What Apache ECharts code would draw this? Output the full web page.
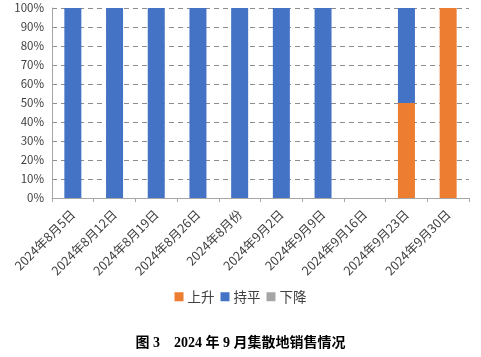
<!DOCTYPE html>
<html><head><meta charset="utf-8">
<script src="https://cdn.jsdelivr.net/npm/echarts@6/dist/echarts.min.js"></script>
<style>html,body{margin:0;padding:0;background:#fff}#c{width:481px;height:357px}</style>
</head><body><div id="c"></div>
<script>
const categories = ['2024年8月5日','2024年8月12日','2024年8月19日','2024年8月26日','2024年8月份','2024年9月2日','2024年9月9日','2024年9月16日','2024年9月23日','2024年9月30日'];
const up = [0,0,0,0,0,0,0,0,50,100];
const flat = [100,100,100,100,100,100,100,0,50,0];
const down = [0,0,0,0,0,0,0,0,0,0];
const yTicks = [0,10,20,30,40,50,60,70,80,90,100];
const chart = echarts.init(document.getElementById('c'), null, {renderer:'canvas'});
const font = '"Noto Sans CJK SC", "Liberation Sans", sans-serif';
chart.setOption({
  animation:false,
  title:{text:'图 3    2024 年 9 月集散地销售情况', left:'center', top:331,
    textStyle:{fontSize:14, fontWeight:'bold', color:'#000', fontFamily:'"Liberation Serif", "Noto Sans CJK SC", serif'}},
  legend:{data:['上升','持平','下降'], top:285, left:'center', itemWidth:9, itemHeight:9, itemGap:6,
    icon:'rect', textStyle:{fontSize:13.5, color:'#404040', fontFamily:font, padding:[0,0,0,-1]}},
  grid:{left:52, right:12, top:8, bottom:159, containLabel:false},
  xAxis:{type:'category', data:categories,
    axisLine:{lineStyle:{color:'#a6a6a6'}}, axisTick:{show:true, length:4, lineStyle:{color:'#a6a6a6'}},
    axisLabel:{rotate:45, fontSize:12.5, color:'#404040', margin:14, fontFamily:font, interval:0}},
  yAxis:{type:'value', min:0, max:100, interval:10,
    axisLine:{show:true, lineStyle:{color:'#a6a6a6'}}, axisTick:{show:false},
    axisLabel:{formatter:v=>yTicks.includes(v)?v+'%':'', fontSize:11.5, color:'#404040', margin:8, fontFamily:font},
    splitLine:{lineStyle:{type:[5,4], color:'#8c8c8c', width:1}}},
  series:[
    {name:'上升', type:'bar', stack:'a', data:up, barWidth:17, itemStyle:{color:'#ED7D31'}},
    {name:'持平', type:'bar', stack:'a', data:flat, barWidth:17, itemStyle:{color:'#4472C4'}},
    {name:'下降', type:'bar', stack:'a', data:down, barWidth:17, itemStyle:{color:'#A5A5A5'}}
  ]
});
</script></body></html>
